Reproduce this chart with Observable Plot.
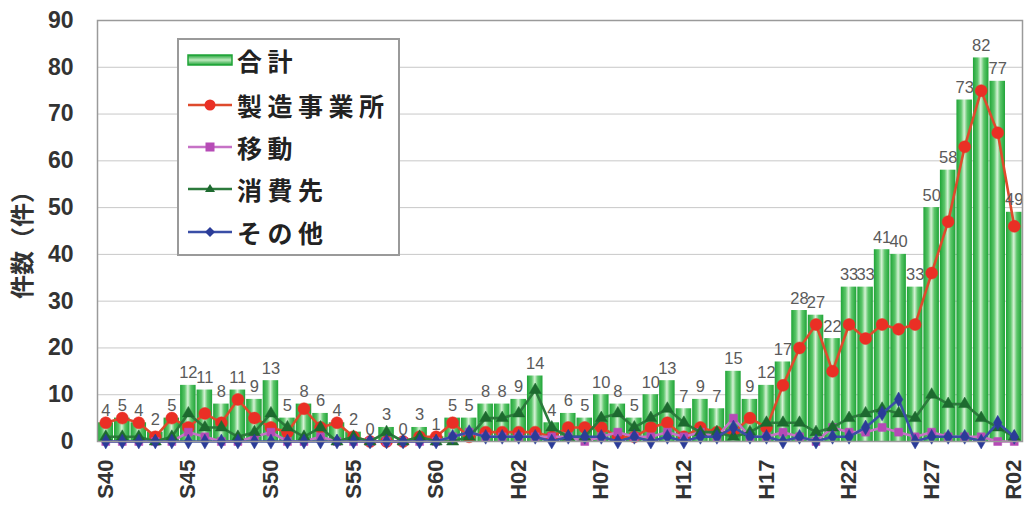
<!DOCTYPE html>
<html>
<head>
<meta charset="utf-8">
<script src="https://cdn.jsdelivr.net/npm/d3@7"></script>
<script src="https://cdn.jsdelivr.net/npm/@observablehq/plot@0.6"></script>
<style>
  html, body { margin: 0; padding: 0; background: #fff; }
  #wrap { position: relative; width: 1029px; height: 512px; overflow: hidden; }
  #legend {
    position: absolute; left: 177px; top: 38px; width: 219px; height: 214px;
    border: 2px solid #9a9a9a; background: #fff; box-sizing: content-box;
    font-family: "Noto Sans CJK JP", "Liberation Sans", sans-serif;
    font-weight: 700; font-size: 25px; letter-spacing: 5.5px; color: #222;
  }
  .item { position: absolute; left: 8px; height: 40px; display: flex; align-items: center; white-space: nowrap; }
  .item svg { margin-right: 4px; }
</style>
</head>
<body>
<div id="wrap"><div id="legend"></div></div>
<script>
// ---- data ----
const years = d3.range(1965, 2021);
const xTickYears = [1965, 1970, 1975, 1980, 1985, 1990, 1995, 2000, 2005, 2010, 2015, 2020];
const xTickLabels = ["S40", "S45", "S50", "S55", "S60", "H02", "H07", "H12", "H17", "H22", "H27", "R02"];
const yTicks = [0, 10, 20, 30, 40, 50, 60, 70, 80, 90];

const total = [4,5,4,2,5,12,11,8,11,9, 13,5,8,6,4,2,0,3,0,3, 1,5,5,8,8,9,14,4,6,5,
               10,8,5,10,13,7,9,7,15,9, 12,17,28,27,22,33,33,41,40,33, 50,58,73,82,77,49];
const seizo  = [4,5,4,1,5,3,6,4,9,5, 3,2,7,3,4,1,0,0,0,1, 1,4,1,2,2,2,2,1,3,3,
               3,1,1,3,4,1,3,2,2,5, 3,12,20,25,15,25,22,25,24,25, 36,47,63,75,66,46];
const idou   = [0,0,0,0,0,2,1,0,0,1, 2,0,0,1,0,0,0,0,0,0, 0,1,2,1,1,1,1,1,1,0,
               1,2,1,1,2,1,2,1,5,1, 1,2,1,0,3,2,2,3,2,1, 2,1,1,1,0,0];
const shohi  = [1,1,1,0,1,6,3,3,1,2, 6,3,1,3,0,1,0,2,0,1, 0,0,1,5,5,6,11,3,1,1,
               5,6,3,5,7,4,2,2,1,2, 4,4,4,2,3,5,6,7,6,5, 10,8,8,5,3,1];
const sonota = [0,0,0,0,0,0,0,0,0,0, 0,0,0,0,0,0,0,0,0,0, 0,1,2,1,1,1,1,0,1,1,
               1,0,1,0,1,0,1,1,3,1, 1,0,1,0,1,1,3,6,9,0, 1,1,1,0,4,1];

const seriesNames = ["合計", "製造事業所", "移動", "消費先", "その他"];
const yLabel = "件数（件）";

// ---- build tables ----
const rows = years.map((yr, i) => ({year: yr, total: total[i]}));
const lineSpecs = [
  {name: seriesNames[1], values: seizo,  stroke: "#de4a2c", fill: "#ea2f25", symbol: "circle",   r: 6},
  {name: seriesNames[2], values: idou,   stroke: "#c672c6", fill: "#b64bb6", symbol: "square",   r: 4.5},
  {name: seriesNames[3], values: shohi,  stroke: "#2c7a3c", fill: "#1d6a2f", symbol: "triangle", r: 4.5},
  {name: seriesNames[4], values: sonota, stroke: "#3a4ea6", fill: "#2b3c98", symbol: "diamond",  r: 4.5}
];
const lineMarks = [];
for (const s of lineSpecs) {
  const data = years.map((yr, i) => ({year: yr, v: s.values[i]}));
  lineMarks.push(Plot.line(data, {x: "year", y: "v", stroke: s.stroke, strokeWidth: 2.6}));
  lineMarks.push(Plot.dot(data, {x: "year", y: "v", fill: s.fill, stroke: s.fill, strokeWidth: 0.5, symbol: s.symbol, r: s.r}));
}

const font = "'Liberation Sans', 'Noto Sans CJK JP', Arial, sans-serif";

const chart = Plot.plot({
  width: 1029,
  height: 512,
  marginLeft: 97,
  marginRight: 7,
  marginTop: 20,
  marginBottom: 71,
  style: {fontFamily: font, background: "transparent", overflow: "visible"},
  x: {domain: [1964.5, 2020.5]},
  y: {domain: [0, 90]},
  marks: [
    Plot.gridY(yTicks.slice(1, -1), {stroke: "#c8c8c8", strokeOpacity: 1, strokeWidth: 1}),
    Plot.rectY(rows, {x1: d => d.year - 0.47, x2: d => d.year + 0.47, y: "total", fill: "url(#barGrad)"}),
    ...lineMarks,
    Plot.text(rows, {x: "year", y: "total", text: "total", dy: -7, lineAnchor: "bottom",
                     fontSize: 16.5, fill: "#5a5a5a", fontFamily: font}),
    Plot.frame({stroke: "#9a9a9a", strokeWidth: 1.5}),
    Plot.axisY({ticks: yTicks, tickSize: 0, tickPadding: 24, fontSize: 23, fontWeight: "bold",
                color: "#333", label: null}),
    Plot.axisX({ticks: xTickYears, tickFormat: d => xTickLabels[xTickYears.indexOf(d)],
                tickRotate: -90, tickSize: 0, tickPadding: 18, fontSize: 22, fontWeight: "bold",
                color: "#333", label: null}),
    Plot.text([yLabel], {frameAnchor: "left", textAnchor: "middle", dx: -74, dy: 8, rotate: -90, text: d => d,
                         fontSize: 24, fontWeight: "bold", fill: "#333",
                         fontFamily: "'Noto Sans CJK JP', sans-serif"})
  ]
});

// gradient definition for the bars
const defs = d3.create("svg:defs");
const grad = defs.append("linearGradient").attr("id", "barGrad")
  .attr("x1", "0").attr("x2", "1").attr("y1", "0").attr("y2", "0");
[[0, "#1fa437"], [0.3, "#5cc66a"], [0.5, "#d6f2d6"], [0.7, "#5cc66a"], [1, "#1fa437"]]
  .forEach(([o, c]) => grad.append("stop").attr("offset", o).attr("stop-color", c));
chart.insertBefore(defs.node(), chart.firstChild);

const wrap = document.getElementById("wrap");
wrap.insertBefore(chart, wrap.firstChild);
chart.style.position = "absolute";
chart.style.left = "0";
chart.style.top = "0";

// legend
const legend = document.getElementById("legend");
const swatches = [
  `<svg width="46" height="20"><defs><linearGradient id="lg" x1="0" x2="0" y1="0" y2="1"><stop offset="0" stop-color="#1fa437"/><stop offset="0.5" stop-color="#bfe9bf"/><stop offset="1" stop-color="#1fa437"/></linearGradient></defs><rect x="1" y="5" width="44" height="10" fill="url(#lg)" stroke="#1fa437" stroke-width="1.5"/></svg>`
];
lineSpecs.forEach(s => {
  let m;
  if (s.symbol === "circle") m = `<circle cx="23" cy="10" r="5.5" fill="${s.fill}"/>`;
  else if (s.symbol === "square") m = `<rect x="18.5" y="5.5" width="9" height="9" fill="${s.fill}"/>`;
  else if (s.symbol === "triangle") m = `<path d="M23,5 L28,13 L18,13 Z" fill="${s.fill}"/>`;
  else m = `<path d="M23,5 L28,10 L23,15 L18,10 Z" fill="${s.fill}"/>`;
  swatches.push(`<svg width="46" height="20"><line x1="1" x2="45" y1="10" y2="10" stroke="${s.stroke}" stroke-width="2.6"/>${m}</svg>`);
});
const rowTops = [0, 45, 87, 129, 172];
seriesNames.forEach((n, i) => {
  const div = document.createElement("div");
  div.className = "item";
  div.style.top = rowTops[i] + "px";
  div.innerHTML = swatches[i] + `<span>${n}</span>`;
  legend.appendChild(div);
});
</script>
</body>
</html>
